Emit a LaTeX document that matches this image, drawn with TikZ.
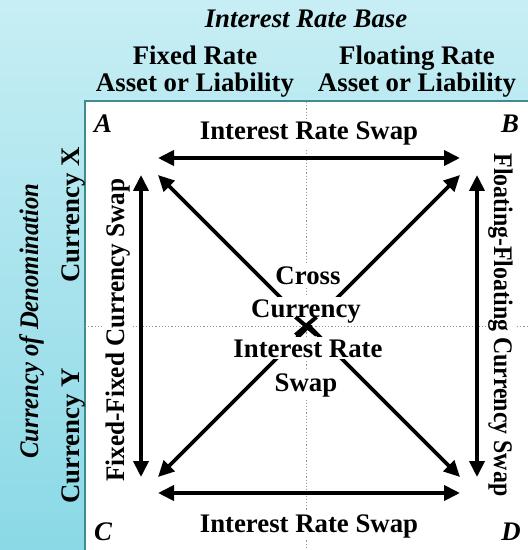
\documentclass[tikz,border=0pt]{standalone}
\usepackage{fontspec}
\setmainfont{Liberation Serif}
\usetikzlibrary{arrows.meta, shapes.misc}
\definecolor{bgtop}{RGB}{199,238,244}
\definecolor{bgbottom}{RGB}{138,217,230}
\definecolor{frameteal}{RGB}{62,140,146}
\definecolor{guidegray}{RGB}{150,150,150}

\tikzset{
  swaparrow/.style={line width=1.9pt, {Triangle[length=8pt,width=7.5pt]}-{Triangle[length=8pt,width=7.5pt]}},
  heading/.style={font=\fontsize{13.4}{15}\selectfont\bfseries, anchor=base, inner sep=0pt},
  axistitle/.style={font=\fontsize{13.4}{15}\selectfont\bfseries\itshape, anchor=base, inner sep=0pt},
  swaplabel/.style={font=\fontsize{13.4}{15}\selectfont\bfseries, anchor=base, fill=white, inner sep=1pt},
  corner/.style={font=\fontsize{13.4}{15}\selectfont\bfseries\itshape, anchor=base, inner sep=0pt},
  guide/.style={guidegray, line width=0.5pt, dash pattern=on 0.6pt off 1pt}
}

\begin{document}
\begin{tikzpicture}[x=0.5pt, y=-0.5pt]
        % Background and matrix frame
        \useasboundingbox (0,0) rectangle (528,550);
        \shade[top color=bgtop, bottom color=bgbottom] (0,0) rectangle (528,550);
        \fill[white] (84.5,101.5) rectangle (528,550);
        \draw[frameteal, line width=1pt] (84.5,550) -- (84.5,101.5) -- (528,101.5);

        % Quadrant guides
        \draw[guide] (306,102) -- (306,550);
        \draw[guide] (85,326) -- (528,326);

        % Axis titles
        \node[axistitle] (base) at (306,28) {Interest Rate Base};
        \node[heading] (fixed1) at (195,65) {Fixed Rate};
        \node[heading] (fixed2) at (195,92) {Asset or Liability};
        \node[heading] (float1) at (417,65) {Floating Rate};
        \node[heading] (float2) at (417,92) {Asset or Liability};
        \node[axistitle, rotate=90, xscale=0.92] (denom) at (38,321) {Currency of Denomination};
        \node[heading, rotate=90] (curX) at (79,215) {Currency X};
        \node[heading, rotate=90] (curY) at (79,436) {Currency Y};

        % Corners
        \node[corner] (A) at (103,133) {A};
        \node[corner] (B) at (510,133) {B};
        \node[corner] (C) at (103,540) {C};
        \node[corner] (D) at (511,540) {D};

        % Arrow end points
        \coordinate (Ah) at (158,158);
        \coordinate (Av) at (141,175);
        \coordinate (Ad) at (158,175);
        \coordinate (Bh) at (460,158);
        \coordinate (Bv) at (477,175);
        \coordinate (Bd) at (460,175);
        \coordinate (Ch) at (158,493);
        \coordinate (Cv) at (141,477);
        \coordinate (Cd) at (158,477);
        \coordinate (Dh) at (460,493);
        \coordinate (Dv) at (477,477);
        \coordinate (Dd) at (460,477);

        % Swaps
        \draw[swaparrow] (Ah) -- (Bh);
        \draw[swaparrow] (Ch) -- (Dh);
        \draw[swaparrow] (Av) -- (Cv);
        \draw[swaparrow] (Bv) -- (Dv);
        \draw[swaparrow] (Ad) -- (Dd);
        \draw[swaparrow] (Bd) -- (Cd);

        % Swap labels
        \node[swaplabel] (irsTop) at (309,140) {Interest Rate Swap};
        \node[swaplabel] (irsBottom) at (309,532) {Interest Rate Swap};
        \node[swaplabel, rotate=90, xscale=0.94] (ffcs) at (124,330) {Fixed-Fixed Currency Swap};
        \node[swaplabel, rotate=-90, xscale=0.89] (flcs) at (494,325) {Floating-Floating Currency Swap};
        \node[swaplabel] (cc1) at (308,285) {Cross};
        \node[swaplabel] (cc2) at (306,317) {Currency};
        \node[swaplabel] (cc3) at (308,357) {Interest Rate};
        \node[swaplabel] (cc4) at (306,391) {Swap};
        \node[cross out, draw, line width=2pt, minimum width=8.5pt, minimum height=7pt, inner sep=0pt] (mid) at (306,326) {};
\end{tikzpicture}
\end{document}
